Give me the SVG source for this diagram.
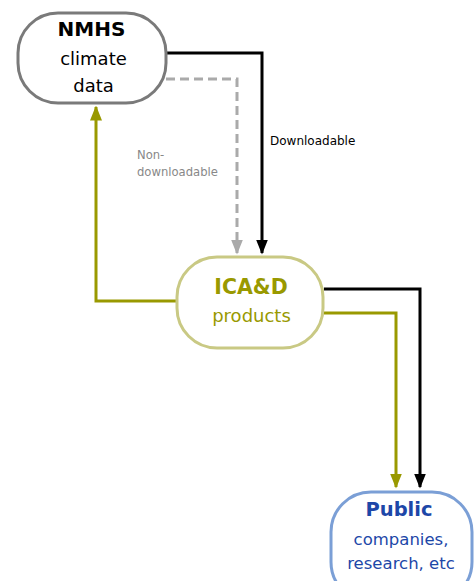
<svg xmlns="http://www.w3.org/2000/svg" width="476" height="581" viewBox="0 0 476 581">
<style>
text{font-family:"DejaVu Sans","Liberation Sans",Arial,sans-serif;text-anchor:middle}
.c{fill:none;stroke-width:3}
</style>
<defs>
<marker id="ak" markerWidth="5" markerHeight="4" refX="4.5" refY="2" orient="auto" markerUnits="strokeWidth"><path d="M0,0L5,2L0,4z" fill="#000"/></marker>
<marker id="ag" markerWidth="5" markerHeight="4" refX="4.5" refY="2" orient="auto" markerUnits="strokeWidth"><path d="M0,0L5,2L0,4z" fill="#aaaaaa"/></marker>
<marker id="ao" markerWidth="5" markerHeight="4" refX="4.5" refY="2" orient="auto" markerUnits="strokeWidth"><path d="M0,0L5,2L0,4z" fill="#999900"/></marker>
</defs>
<g id="connectors">
<path class="c" d="M166,53H262V253" stroke="#000" marker-end="url(#ak)"/>
<path class="c" d="M166,79H237V253" stroke="#aaaaaa" stroke-dasharray="9,5" marker-end="url(#ag)"/>
<path class="c" d="M176,301H96V107" stroke="#999900" marker-end="url(#ao)"/>
<path class="c" d="M324,289H420V487" stroke="#000" marker-end="url(#ak)"/>
<path class="c" d="M324,313H396V487" stroke="#999900" marker-end="url(#ao)"/>
<text x="270" y="145" style="text-anchor:start;font-size:12px" fill="#000">Downloadable</text>
<text x="137" y="159" style="text-anchor:start;font-size:11.6px" fill="#888">Non-</text>
<text x="137" y="176" style="text-anchor:start;font-size:11.6px" fill="#888">downloadable</text>
</g>
<g id="nmhs">
<rect x="18" y="13" width="148" height="90" rx="40" fill="#fff" stroke="#7a7a7a" stroke-width="3"/>
<text x="91.5" y="36" font-size="20" font-weight="bold" fill="#000">NMHS</text>
<text x="93.5" y="65" font-size="18" fill="#000">climate</text>
<text x="93.5" y="92" font-size="18" fill="#000">data</text>
</g>
<g id="icad">
<rect x="177" y="257" width="146" height="91" rx="40" fill="#fff" stroke="#c9c984" stroke-width="3"/>
<text x="251" y="294" font-size="20.5" font-weight="bold" fill="#999900">ICA&amp;D</text>
<text x="251.5" y="322" font-size="18" fill="#999900">products</text>
</g>
<g id="public">
<rect x="331" y="492" width="141" height="110" rx="40" fill="#fff" stroke="#7b9fd6" stroke-width="3"/>
<text x="399" y="516" font-size="19.5" font-weight="bold" fill="#1d47a8">Public</text>
<text x="401" y="545" font-size="16.5" fill="#1d47a8">companies,</text>
<text x="401" y="569" font-size="16.5" fill="#1d47a8">research, etc</text>
</g>
</svg>
